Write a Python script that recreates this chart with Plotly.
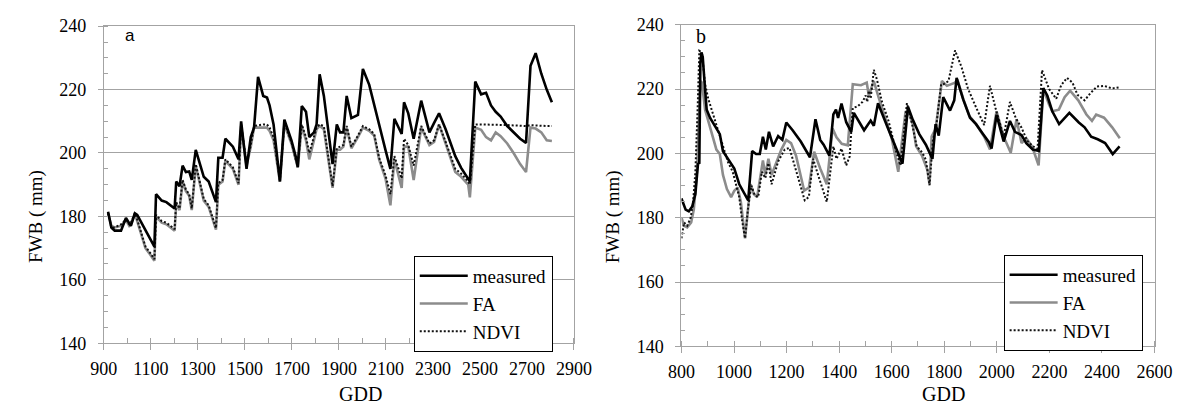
import plotly.graph_objects as go

# ---------------- Panel a ----------------
gdd_a = [918, 932, 946, 973, 994, 1008, 1015, 1032, 1042, 1077, 1097, 1115, 1122, 1146, 1166,
         1201, 1208, 1222, 1235, 1249, 1263, 1274, 1291, 1325, 1346, 1377, 1387, 1405, 1417,
         1435, 1449, 1473, 1484, 1507, 1525, 1539, 1556, 1578, 1594, 1605, 1622, 1649, 1668,
         1698, 1716, 1725, 1742, 1760, 1774, 1794, 1805, 1818, 1836, 1873, 1891, 1905, 1919,
         1933, 1953, 1981, 2002, 2029, 2050, 2071, 2098, 2119, 2136, 2167, 2177, 2195, 2218,
         2250, 2285, 2305, 2326, 2354, 2395, 2420, 2450, 2457, 2480, 2505, 2526, 2547, 2567,
         2588, 2616, 2643, 2671, 2696, 2715, 2737, 2761, 2784, 2806]
measured_a = [181.5, 176.5, 175.5, 175.5, 179.5, 177.5, 177, 181, 180.5, 175.7, 173, 170.5, 187, 185, 184.5,
              182.5, 191, 189.5, 196, 194, 194.2, 191.5, 201, 192.5, 191, 184.5, 198.5, 198.5, 204.5,
              203, 202, 198, 210, 195, 205, 208, 224, 218, 217.5, 215, 209, 191, 210.5,
              204, 199, 195.5, 214.8, 213, 205, 206.5, 209, 224.8, 218, 196.5, 209, 206.5, 206.5,
              218, 211, 212, 226.5, 221.5, 215, 209, 201, 195, 210.8, 206, 216, 212.5, 204.5,
              216.5, 206.5, 209.5, 212.5, 207.5, 199, 195.3, 192, 191, 222.5, 218.5, 219, 215, 213,
              211.5, 208.5, 206.5, 204.5, 203.2, 227.5, 231.5, 225, 220, 216]
fa_a = [181, 177, 176.5, 177, 178.8, 177, 177.5, 180.8, 178.5, 170, 168, 166, 180, 178, 177.5,
        175.5, 184, 182, 191, 188, 186.5, 182, 196, 185, 183, 175.8, 190, 191, 197.5,
        196, 195, 190, 208.5, 196, 202, 208, 208, 208, 208, 207, 204, 191, 209,
        203, 197.5, 195.5, 208.5, 204, 198, 204, 207.5, 208.5, 207.5, 189, 201, 201, 202,
        208, 201.5, 205, 208, 207, 205.5, 198, 192, 183.5, 198, 189, 202, 202, 191.5,
        208, 202.5, 203.5, 209, 203, 194, 192.5, 190, 186, 208, 207.3, 205, 204, 206.5,
        205.3, 203, 200, 196.5, 194, 208, 207.7, 206.5, 204, 203.8]
ndvi_a = [181, 176.5, 176.5, 177.5, 179, 177.5, 178, 181, 179, 170.5, 168.5, 166.5, 180.5, 178.5, 178,
          176, 184.5, 182.5, 191.5, 188.5, 187, 182.5, 196.5, 185.5, 183.5, 176.3, 190.5, 191.5, 198,
          196.5, 195.5, 190.5, 209, 196.5, 202.5, 208.5, 208.8, 209, 209, 208, 205, 191.5, 209.5,
          203.5, 198, 196.5, 209, 205, 200, 205, 208, 209, 208.5, 189.5, 201.5, 202, 202.5,
          208.5, 202, 205.5, 208.5, 207.5, 206, 198.5, 193, 187, 199, 192, 204.5, 202.5, 196,
          208.5, 203, 204, 209, 203.5, 195, 193.5, 191, 190, 209, 209, 209, 209, 209,
          209, 208.8, 208.7, 208.5, 208.5, 208.8, 208.8, 208.6, 208.5, 208.5]

# ---------------- Panel b ----------------
gdd_b_meas = [800, 816, 828, 841, 853, 863, 868, 872, 876, 881, 888, 896, 909, 927, 946, 958, 977, 1001,
              1020, 1038, 1054, 1069, 1084, 1098, 1110, 1121, 1133, 1149, 1168, 1184, 1199, 1223, 1254,
              1289, 1310, 1328, 1341, 1363, 1378, 1388, 1396, 1409, 1427, 1446, 1456, 1495, 1520, 1532,
              1548, 1585, 1631, 1641, 1662, 1680, 1705, 1730, 1755, 1767, 1779, 1796, 1822, 1838, 1847,
              1872, 1898, 1921, 1946, 1970, 1980, 1999, 2026, 2050, 2069, 2094, 2112, 2137, 2160, 2177,
              2192, 2211, 2237, 2276, 2312, 2334, 2359, 2384, 2412, 2441, 2467]
measured_b = [186, 182.5, 182, 183.5, 187.4, 196.8, 197, 228, 231.4, 230, 222, 213.6, 211, 208.6, 206, 200.7, 198.3, 195.3,
              190.4, 187.9, 185.4, 200.7, 199.8, 199.8, 205.2, 201.2, 206.7, 202.2, 205.4, 204.2, 209.6, 207.2, 203.7,
              198.8, 210.6, 204.2, 202.7, 199.3, 212.1, 213.6, 211, 215.5, 209.7, 206.7, 212.6, 207.2, 210.2, 208.6,
              215.6, 208, 198.3, 196.8, 214.5, 210.5, 206, 202.7, 198.3, 209.1, 205.5, 217.5, 213.3, 216.5, 223.5,
              216.8, 211.1, 209.1, 206.2, 203.5, 201.5, 212, 203.7, 210.1, 206.7, 205.7, 203.2, 201.2, 200.8, 220.3,
              218, 213.1, 209.1, 212.6, 209.6, 208.1, 205.2, 204.4, 203.2, 199.8, 202.2]

gdd_b_fa = [800, 810, 822, 837, 847, 859, 872, 878, 890, 902, 921, 933, 946, 958, 973, 989, 1001, 1014,
            1026, 1042, 1063, 1075, 1088, 1110, 1119, 1131, 1143, 1162, 1180, 1199, 1217, 1236, 1267,
            1285, 1298, 1305, 1328, 1353, 1375, 1390, 1410, 1433, 1452, 1483, 1505, 1513, 1532, 1550,
            1600, 1625, 1653, 1668, 1680, 1693, 1715, 1736, 1744, 1752, 1767, 1791, 1810, 1841, 1850,
            1872, 1896, 1921, 1952, 1974, 1999, 2026, 2053, 2075, 2094, 2112, 2134, 2159, 2177, 2199,
            2211, 2236, 2258, 2279, 2310, 2341, 2362, 2378, 2408, 2439, 2468]
fa_b = [180, 177.5, 177, 178.5, 182.5, 194.3, 222.5, 222, 213.6, 210.1, 205.2, 201.2, 199.8, 193.3, 188.9, 186.4, 188.4, 189.4,
        184.9, 173.6, 190.4, 187.4, 186.4, 197.8, 193.3, 198.3, 193.3, 197.3, 201.2, 204.2, 203.2, 199.3, 188.4,
        189.4, 197.3, 200.5, 195.3, 190.4, 207.7, 205, 203, 202.5, 221.5, 221.2, 222, 218, 222.5, 217.5,
        204.7, 194.3, 213.1, 212, 209.1, 202.2, 199.3, 194.8, 190.4, 205.2, 207.6, 222.5, 221, 222, 222.9,
        217, 211.6, 209.1, 205.2, 201.2, 213.1, 205.2, 200.2, 210.6, 203.2, 204.7, 202.2, 196.3, 220, 215.1,
        213.1, 213.6, 217.5, 219.5, 216.5, 212.1, 210.1, 212.1, 211.1, 208.1, 204.7]

gdd_b_ndvi = [800, 810, 822, 835, 844, 853, 862, 868, 878, 890, 902, 921, 940, 958, 977, 995, 1007, 1020,
              1032, 1042, 1054, 1066, 1079, 1092, 1106, 1119, 1131, 1143, 1168, 1193, 1211, 1236, 1269,
              1285, 1301, 1316, 1341, 1353, 1378, 1390, 1409, 1427, 1440, 1452, 1470, 1489, 1501, 1507,
              1513, 1520, 1532, 1544, 1563, 1588, 1618, 1633, 1658, 1678, 1695, 1717, 1730, 1744, 1757,
              1769, 1788, 1797, 1816, 1841, 1865, 1890, 1921, 1952, 1974, 1995, 2026, 2050, 2072, 2094,
              2115, 2137, 2155, 2172, 2199, 2226, 2245, 2267, 2288, 2307, 2334, 2356, 2381, 2408, 2439, 2464]
ndvi_b = [173.6, 178.5, 177.5, 180, 184.4, 194.3, 215, 231.9, 231.4, 221.5, 217, 212.1, 207.2, 202.2, 197.3, 194.3, 190.4, 186.4,
          178.5, 173.6, 183.5, 190, 187, 186.4, 194.3, 192.3, 197, 190.4, 197.5, 201.2, 201.7, 194.3, 185.4,
          186.5, 198.3, 194.3, 188.4, 184.9, 202.2, 198.3, 201.5, 196.3, 199, 214.1, 214.6, 216, 218, 216,
          219.5, 217, 226, 222.9, 216, 210.1, 200.2, 196.3, 215.6, 209, 202.2, 200.2, 198, 190.1, 204.2,
          208, 221.5, 221.5, 222.5, 232, 227, 220.2, 214.3, 208.8, 221, 214.1, 205.2, 216, 211, 208,
          204, 202.2, 201.5, 225.9, 220, 217, 221.2, 223.5, 222, 218.2, 216.5, 218.7, 220.8, 221, 220.2, 220.5]

x_ticks_a = list(range(900, 3000, 200))
x_ticks_b = list(range(800, 2700, 200))
y_ticks = list(range(140, 260, 20))

SERIF = "Liberation Serif, Times New Roman, serif"
GRID = "#a3a3a3"
FA_COLOR = "#8c8c8c"

fig = go.Figure()

def add_panel(xa, ya, legend, x_fa, y_fa, x_nd, y_nd, x_me, y_me):
    fig.add_trace(go.Scatter(x=x_fa, y=y_fa, mode="lines", name="FA", legendrank=2,
                             line=dict(color=FA_COLOR, width=2.6), xaxis=xa, yaxis=ya, legend=legend))
    fig.add_trace(go.Scatter(x=x_nd, y=y_nd, mode="lines", name="NDVI", legendrank=3,
                             line=dict(color="#111111", width=2, dash="2px,2px"), xaxis=xa, yaxis=ya, legend=legend))
    fig.add_trace(go.Scatter(x=x_me, y=y_me, mode="lines", name="measured", legendrank=1,
                             line=dict(color="#000000", width=2.6), xaxis=xa, yaxis=ya, legend=legend))

add_panel("x", "y", "legend", gdd_a, fa_a, gdd_a, ndvi_a, gdd_a, measured_a)
add_panel("x2", "y2", "legend2", gdd_b_fa, fa_b, gdd_b_ndvi, ndvi_b, gdd_b_meas, measured_b)

W, H = 1202, 417

def xdom(l, r):
    return [l / W, r / W]

def ydom(b, t):
    return [1 - b / H, 1 - t / H]

def xaxis(dom, rng, ticks, anchor):
    return dict(domain=dom, range=rng, tickvals=ticks, anchor=anchor,
                showgrid=False, zeroline=False, showline=True, mirror=True,
                linecolor=GRID, linewidth=1,
                ticks="outside", ticklen=6, tickcolor=GRID, tickwidth=1, ticklabelstandoff=3,
                minor=dict(dtick=100, ticks="inside", ticklen=5, tickcolor=GRID, tickwidth=1, showgrid=False),
                tickfont=dict(family=SERIF, size=18, color="#000"))

def yaxis(dom, anchor):
    return dict(domain=dom, range=[140, 240], tickvals=y_ticks, anchor=anchor,
                showgrid=True, gridcolor=GRID, gridwidth=1, zeroline=False,
                showline=True, mirror=True, linecolor=GRID, linewidth=1,
                ticks="outside", ticklen=5, tickcolor=GRID, tickwidth=1, ticklabelstandoff=8,
                minor=dict(dtick=5, ticks="inside", ticklen=4, tickcolor=GRID, tickwidth=1, showgrid=False),
                tickfont=dict(family=SERIF, size=18, color="#000"))

legend_style = dict(bgcolor="white", bordercolor="#000", borderwidth=1,
                    font=dict(family=SERIF, size=19, color="#000"),
                    xanchor="left", yanchor="top", traceorder="normal",
                    itemwidth=48, entrywidth=100, entrywidthmode="pixels")

def ann(text, x, y, font, angle=0):
    return dict(text=text, x=x / W, y=1 - y / H, xref="paper", yref="paper", showarrow=False,
                xanchor="center", yanchor="middle", textangle=angle, font=font)

fig.update_layout(
    width=W, height=H, margin=dict(l=0, r=0, t=0, b=0),
    paper_bgcolor="white", plot_bgcolor="white",
    xaxis=xaxis(xdom(92.3, 575.3), [900, 2900], x_ticks_a, "y"),
    yaxis=yaxis(ydom(350, 17), "x"),
    xaxis2=xaxis(xdom(685.7, 1171.7), [800, 2600], x_ticks_b, "y2"),
    yaxis2=yaxis(ydom(353.3, 15.5), "x2"),
    legend=dict(x=410.7 / W, y=1 - 258.3 / H, **legend_style),
    legend2=dict(x=1016.7 / W, y=1 - 257.3 / H, **legend_style),
    showlegend=True,
    annotations=[
        ann("a", 119, 27, dict(family="Liberation Sans, Arial, sans-serif", size=17, color="#000")),
        ann("b", 706, 27, dict(family=SERIF, size=20, color="#000")),
        ann("GDD", 356, 403, dict(family=SERIF, size=20, color="#000")),
        ann("GDD", 955, 403, dict(family=SERIF, size=20, color="#000")),
        ann("FWB ( mm)", 22, 217, dict(family=SERIF, size=19, color="#000"), -90),
        ann("FWB ( mm)", 615, 217, dict(family=SERIF, size=19, color="#000"), -90),
    ],
)

fig.write_html("out.html")
